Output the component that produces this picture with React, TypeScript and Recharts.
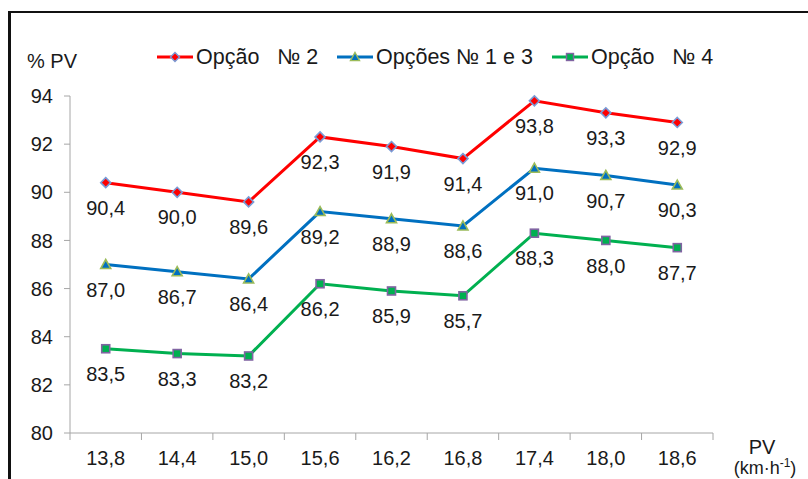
import React from 'react';
import { LineChart, Line, XAxis, YAxis, LabelList } from 'recharts';

const categories = ['13,8', '14,4', '15,0', '15,6', '16,2', '16,8', '17,4', '18,0', '18,6'];
const opcao2 = [90.4, 90.0, 89.6, 92.3, 91.9, 91.4, 93.8, 93.3, 92.9];
const opcoes13 = [87.0, 86.7, 86.4, 89.2, 88.9, 88.6, 91.0, 90.7, 90.3];
const opcao4 = [83.5, 83.3, 83.2, 86.2, 85.9, 85.7, 88.3, 88.0, 87.7];
const yTicks = [80, 82, 84, 86, 88, 90, 92, 94];
const seriesNames = ['Opção   № 2', 'Opções № 1 e 3', 'Opção   № 4'];
const yTitle = '% PV';
const xTitle = 'PV';
const xUnit = '(km·h';
const xUnitSup = '-1';

const data = categories.map((c, i) => ({ pv: c, s2: opcao2[i], s13: opcoes13[i], s4: opcao4[i] }));

const FONT = '"Liberation Sans", Arial, sans-serif';
const TEXT = '#1a1a1a';
const AXIS = '#a6a6a6';
const RED = '#ff0000';
const BLUE = '#0070c0';
const GREEN = '#00b050';

const W = 808;
const H = 479;
const M = { top: 96, right: 95, bottom: 0, left: 0 };
const YW = 70;
const XH = 46;
const PLOT_W = W - M.left - M.right - YW;
const TICK_SIZE = 7;
const TICK_MARGIN = 11;
const LEGEND_LEFTS = [157, 337, 552];

const fmt = (v: any) => Number(v).toFixed(1).replace('.', ',');

const diamondPath = (cx: number, cy: number, r: number) => `M${cx},${cy - r}L${cx + r},${cy}L${cx},${cy + r}L${cx - r},${cy}Z`;
const triPath = (cx: number, cy: number, r: number) => `M${cx},${cy - r}L${cx + r},${cy + r * 0.8}L${cx - r},${cy + r * 0.8}Z`;

const DiamondDot = (p: any) => {
  if (p.cx == null || p.cy == null) return <g key={`d${p.index}`} />;
  return <path key={`d${p.index}`} d={diamondPath(p.cx, p.cy, 5)} fill={RED} stroke="#7a9bd6" strokeWidth={1.6} />;
};
const TriDot = (p: any) => {
  if (p.cx == null || p.cy == null) return <g key={`t${p.index}`} />;
  return <path key={`t${p.index}`} d={triPath(p.cx, p.cy, 5)} fill={BLUE} stroke="#9bbb59" strokeWidth={1.6} />;
};
const SquareDot = (p: any) => {
  if (p.cx == null || p.cy == null) return <g key={`s${p.index}`} />;
  return <rect key={`s${p.index}`} x={p.cx - 4} y={p.cy - 4} width={8} height={8} fill={GREEN} stroke="#8064a2" strokeWidth={1.6} />;
};

const XTick = (props: any) => {
  const { x, y, payload, index } = props;
  const half = PLOT_W / (2 * categories.length);
  const axisY = y - TICK_SIZE - TICK_MARGIN;
  return (
    <g>
      <line x1={x - half} x2={x - half} y1={axisY} y2={axisY + TICK_SIZE} stroke={AXIS} strokeWidth={1} />
      {index === categories.length - 1 && (
        <line x1={x + half} x2={x + half} y1={axisY} y2={axisY + TICK_SIZE} stroke={AXIS} strokeWidth={1} />
      )}
      <text x={x} y={y} dy="0.71em" textAnchor="middle" fontSize={20} fontFamily={FONT} fill={TEXT}>
        {payload.value}
      </text>
    </g>
  );
};

const XLabel = (props: any) => {
  const vb = props.viewBox || { x: 70, y: 433, width: 643, height: 46 };
  const cx = vb.x + vb.width + 49;
  return (
    <g>
      <text x={cx} y={vb.y + 21} textAnchor="middle" fontSize={20} fontFamily={FONT} fill={TEXT}>{xTitle}</text>
      <text x={cx + 3} y={vb.y + 41} textAnchor="middle" fontSize={18} fontFamily={FONT} fill={TEXT}>
        {xUnit}
        <tspan dy={-7} fontSize={12}>{xUnitSup}</tspan>
        <tspan dy={7}>)</tspan>
      </text>
    </g>
  );
};

const YLabel = (props: any) => {
  const vb = props.viewBox || { x: 0, y: 96, width: 70, height: 337 };
  return (
    <text x={vb.x + 27} y={vb.y - 28} fontSize={20} fontFamily={FONT} fill={TEXT}>{yTitle}</text>
  );
};

const LegendIcon = ({ color, kind }: { color: string; kind: number }) => (
  <svg width={36} height={20} style={{ display: 'block' }}>
    <line x1={0} x2={36} y1={10} y2={10} stroke={color} strokeWidth={3} />
    {kind === 0 && <path d={diamondPath(18, 10, 4.5)} fill={RED} stroke="#7a9bd6" strokeWidth={1.4} />}
    {kind === 1 && <path d={triPath(18, 10, 4.5)} fill={BLUE} stroke="#9bbb59" strokeWidth={1.4} />}
    {kind === 2 && <rect x={14.5} y={6.5} width={7} height={7} fill={GREEN} stroke="#8064a2" strokeWidth={1.4} />}
  </svg>
);

export default function App() {
  const colors = [RED, BLUE, GREEN];
  return (
    <div style={{ position: 'absolute', left: 0, top: 0, width: W, height: H, overflow: 'hidden', background: '#fff', fontFamily: FONT }}>
      <div style={{ position: 'absolute', left: 8, top: 11, width: 900, height: 600, borderLeft: '3px solid #111', borderTop: '2px solid #111' }} />
      {seriesNames.map((n, i) => (
        <div key={n} style={{ position: 'absolute', left: LEGEND_LEFTS[i], top: 45, display: 'flex', alignItems: 'center', whiteSpace: 'pre', fontSize: 21.5, color: TEXT, lineHeight: '24px' }}>
          <LegendIcon color={colors[i]} kind={i} />
          <span style={{ marginLeft: 3 }}>{n}</span>
        </div>
      ))}
      <div style={{ position: 'absolute', left: 0, top: 0 }}>
        <LineChart width={W} height={H} data={data} margin={M}>
          <XAxis
            dataKey="pv"
            scale="band"
            height={XH}
            interval={0}
            stroke={AXIS}
            tickLine={false}
            tickSize={TICK_SIZE}
            tickMargin={TICK_MARGIN}
            tick={<XTick />}
            label={{ content: <XLabel /> }}
          />
          <YAxis
            width={YW}
            domain={[80, 94]}
            ticks={yTicks}
            interval={0}
            stroke={AXIS}
            tickSize={6}
            tickMargin={11}
            tick={{ fontSize: 20, fontFamily: FONT, fill: TEXT }}
            label={{ content: <YLabel /> }}
          />
          <Line dataKey="s2" name={seriesNames[0]} stroke={RED} strokeWidth={3} dot={DiamondDot} activeDot={false} isAnimationActive={false}>
            <LabelList dataKey="s2" position="bottom" offset={18} formatter={fmt} fontSize={20} fontFamily={FONT} fill={TEXT} />
          </Line>
          <Line dataKey="s13" name={seriesNames[1]} stroke={BLUE} strokeWidth={3} dot={TriDot} activeDot={false} isAnimationActive={false}>
            <LabelList dataKey="s13" position="bottom" offset={18} formatter={fmt} fontSize={20} fontFamily={FONT} fill={TEXT} />
          </Line>
          <Line dataKey="s4" name={seriesNames[2]} stroke={GREEN} strokeWidth={3} dot={SquareDot} activeDot={false} isAnimationActive={false}>
            <LabelList dataKey="s4" position="bottom" offset={18} formatter={fmt} fontSize={20} fontFamily={FONT} fill={TEXT} />
          </Line>
        </LineChart>
      </div>
    </div>
  );
}
